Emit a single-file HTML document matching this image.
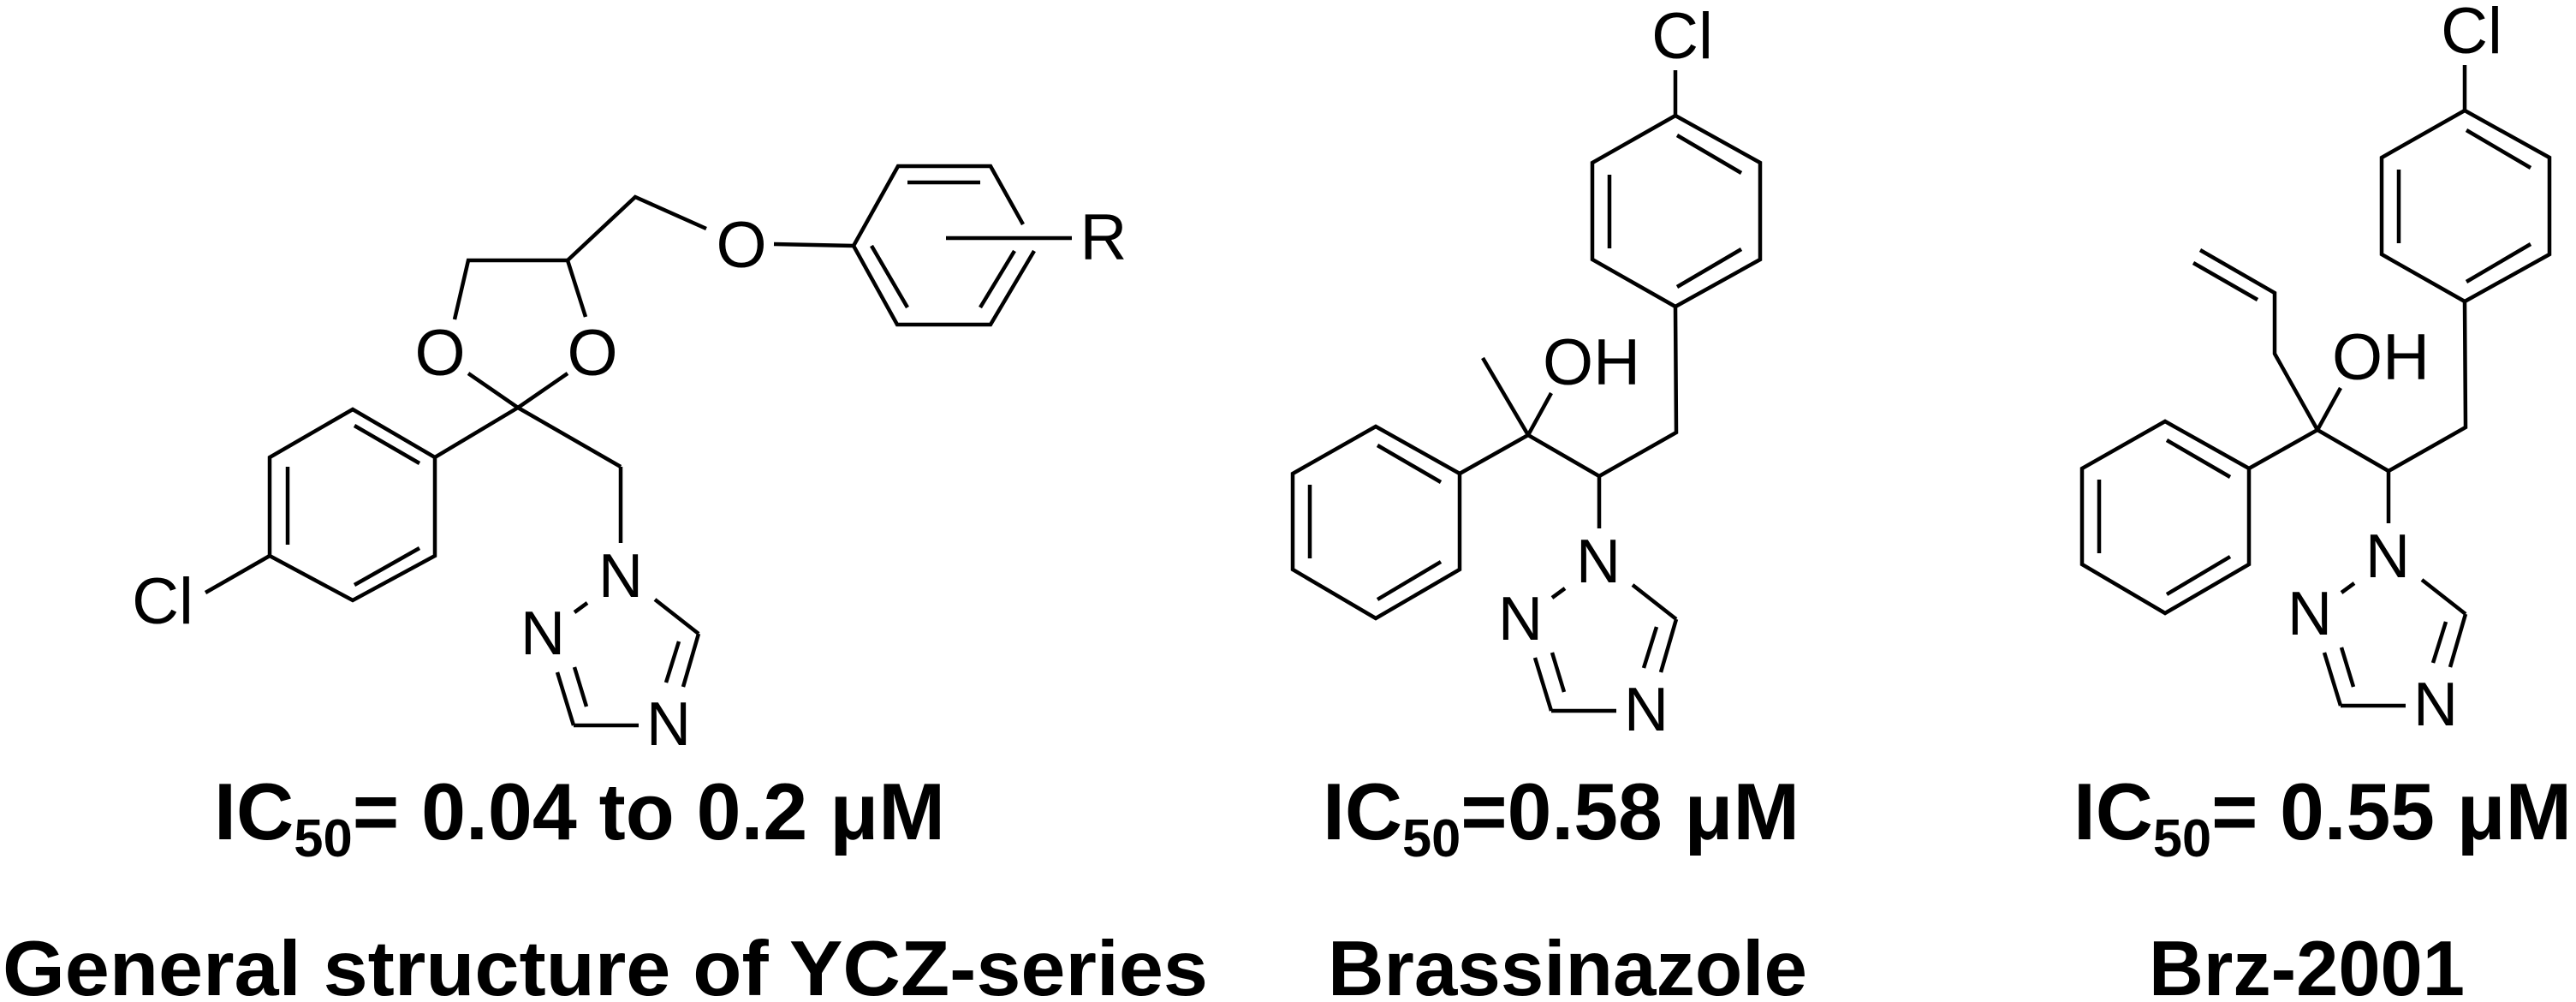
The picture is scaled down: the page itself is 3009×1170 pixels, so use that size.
<!DOCTYPE html>
<html><head><meta charset="utf-8"><style>
html,body{margin:0;padding:0;background:#fff;}
svg{display:block;}
</style></head><body>
<svg width="3009" height="1170" viewBox="0 0 3009 1170" xmlns="http://www.w3.org/2000/svg">
<defs>
<g id="triaz" stroke="#000" stroke-width="4.5" fill="none">
  <line x1="1813" y1="698" x2="1828" y2="687"/>
  <line x1="1907" y1="683" x2="1958" y2="723"/>
  <line x1="1958" y1="723" x2="1940" y2="785"/>
  <line x1="1935" y1="732" x2="1920" y2="780"/>
  <line x1="1888" y1="830" x2="1812" y2="830"/>
  <line x1="1812" y1="830" x2="1793" y2="768"/>
  <line x1="1813" y1="762" x2="1827" y2="808"/>
</g>
<g id="triazT" font-family="Liberation Sans, sans-serif" font-size="72" fill="#000" text-anchor="middle">
  <text x="1867" y="680">N</text>
  <text x="1776" y="747">N</text>
  <text x="1923" y="853">N</text>
</g>
<g id="core" stroke="#000" stroke-width="4.5" fill="none" stroke-linejoin="miter">
  <!-- chlorophenyl -->
  <line x1="1957" y1="82" x2="1957" y2="135"/>
  <polygon points="1957,135 2056,190 2056,303 1957,358 1860,303 1860,190"/>
  <line x1="1959" y1="158" x2="2034" y2="202"/>
  <line x1="1880" y1="204" x2="1880" y2="290"/>
  <line x1="1959" y1="335" x2="2034" y2="291"/>
  <!-- chain -->
  <polyline points="1957,358 1958,505 1868,556 1785,508"/>
  <line x1="1868" y1="556" x2="1868" y2="617"/>
  <line x1="1785" y1="508" x2="1812" y2="459"/>
  <line x1="1785" y1="508" x2="1705" y2="553"/>
  <!-- phenyl -->
  <polygon points="1607,498 1705,553 1705,665 1607,722 1510,665 1510,553"/>
  <line x1="1609" y1="520" x2="1683" y2="563"/>
  <line x1="1530" y1="566" x2="1530" y2="652"/>
  <line x1="1609" y1="700" x2="1683" y2="656"/>
</g>
</defs>

<!-- YCZ -->
<g stroke="#000" stroke-width="4.5" fill="none">
  <line x1="240" y1="692" x2="315" y2="649"/>
  <polygon points="315,649 315,534 412,478 508,534 508,649 412,701"/>
  <line x1="336" y1="545" x2="336" y2="636"/>
  <line x1="414" y1="497" x2="490" y2="541"/>
  <line x1="414" y1="683" x2="490" y2="640"/>
  <line x1="508" y1="534" x2="605" y2="476"/>
  <line x1="605" y1="476" x2="547" y2="436"/>
  <line x1="605" y1="476" x2="663" y2="436"/>
  <line x1="605" y1="476" x2="725" y2="545"/>
  <line x1="725" y1="545" x2="725" y2="634"/>
  <polyline points="531,373 547,304 663,304 684,370"/>
  <polyline points="663,304 742,230 825,267"/>
  <line x1="904" y1="285" x2="997" y2="287"/>
  <polyline points="1195,262 1157,194 1049,194 997,287 1048,379 1157,379 1208,293"/>
  <line x1="1060" y1="213" x2="1145" y2="213"/>
  <line x1="1018" y1="287" x2="1060" y2="359"/>
  <line x1="1185" y1="293" x2="1145" y2="359"/>
  <line x1="1105" y1="278" x2="1252" y2="278"/>
</g>
<g font-family="Liberation Sans, sans-serif" font-size="76" fill="#000" text-anchor="middle">
  <text x="190" y="728">Cl</text>
  <text x="514" y="438">O</text>
  <text x="692" y="438">O</text>
  <text x="866" y="312">O</text>
  <text x="1289" y="303">R</text>
</g>
<g transform="translate(-1142,17)"><use href="#triaz"/><use href="#triazT"/></g>

<!-- Brassinazole -->
<use href="#core"/>
<use href="#triaz"/><use href="#triazT"/>
<line x1="1785" y1="508" x2="1732" y2="418" stroke="#000" stroke-width="4.5"/>
<g font-family="Liberation Sans, sans-serif" font-size="76" fill="#000" text-anchor="middle">
  <text x="1965" y="68">Cl</text>
  <text x="1859" y="449">OH</text>
</g>

<!-- Brz-2001 -->
<g transform="translate(922,-6)">
  <use href="#core"/>
  <use href="#triaz"/><use href="#triazT"/>
  <g font-family="Liberation Sans, sans-serif" font-size="76" fill="#000" text-anchor="middle">
    <text x="1965" y="68">Cl</text>
    <text x="1859" y="449">OH</text>
  </g>
</g>
<g stroke="#000" stroke-width="4.5" fill="none">
  <polyline points="2707,502 2657,413 2657,342 2570,292"/>
  <line x1="2562" y1="307" x2="2637" y2="350"/>
</g>

<!-- Labels -->
<g font-family="Liberation Sans, sans-serif" font-weight="bold" fill="#000">
  <text x="250" y="980" font-size="94" textLength="854" lengthAdjust="spacingAndGlyphs">IC<tspan font-size="62" dy="20">50</tspan><tspan dy="-20">= 0.04 to 0.2 μM</tspan></text>
  <text x="1545" y="980" font-size="94" textLength="557" lengthAdjust="spacingAndGlyphs">IC<tspan font-size="62" dy="20">50</tspan><tspan dy="-20">=0.58 μM</tspan></text>
  <text x="2422" y="980" font-size="94" textLength="582" lengthAdjust="spacingAndGlyphs">IC<tspan font-size="62" dy="20">50</tspan><tspan dy="-20">= 0.55 μM</tspan></text>
  <text x="3" y="1162" font-size="91" textLength="1408" lengthAdjust="spacingAndGlyphs">General structure of YCZ-series</text>
  <text x="1551" y="1162" font-size="91" textLength="560" lengthAdjust="spacingAndGlyphs">Brassinazole</text>
  <text x="2510" y="1162" font-size="91" textLength="369" lengthAdjust="spacingAndGlyphs">Brz-2001</text>
</g>
</svg>
</body></html>
